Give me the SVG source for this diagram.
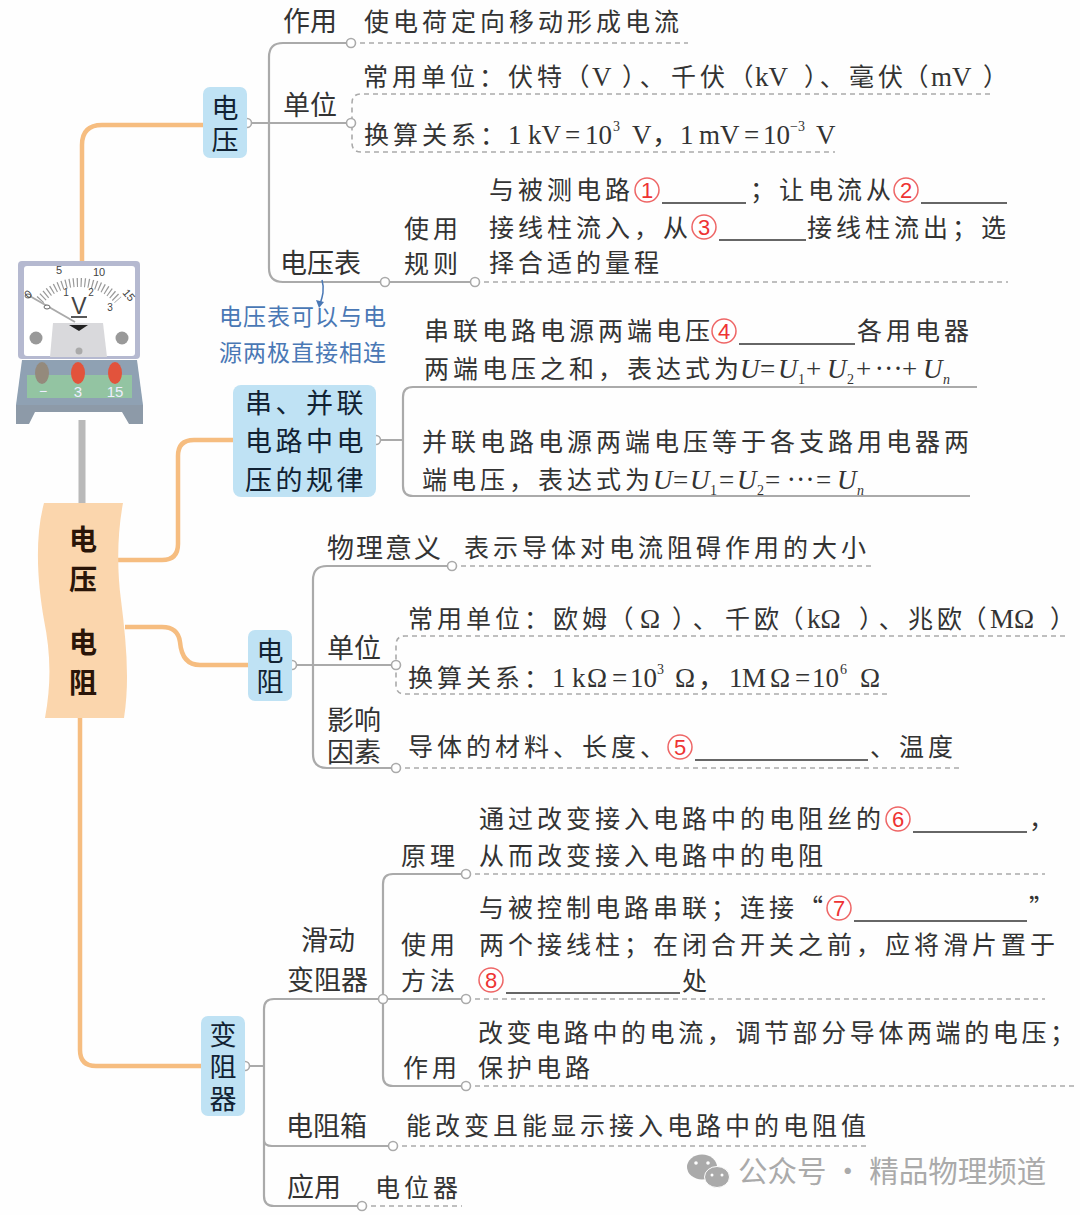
<svg xmlns="http://www.w3.org/2000/svg" width="1080" height="1215" viewBox="0 0 1080 1215">
<style>
text{font-family:"Noto Sans CJK SC","Noto Sans",sans-serif;fill:#333}
.t{font-size:25px;letter-spacing:4px}
.l{font-size:27px}
.n{font-size:27px;fill:#123;text-anchor:middle}
.m{font-family:"Liberation Serif","Noto Sans CJK SC",serif;font-size:27px;letter-spacing:0}
.q{font-feature-settings:"palt";letter-spacing:0}
.e{letter-spacing:0}
.i{font-style:italic}
.s{font-size:14px}
.r{font-family:"Liberation Sans",sans-serif;font-size:22px;fill:#e33;text-anchor:middle}
.rc{fill:#fff;stroke:#e66;stroke-width:1.5}
.o{fill:none;stroke:#f6bd80;stroke-width:4.5}
.g{fill:none;stroke:#aaa;stroke-width:2.2}
.d{fill:none;stroke:#aaa;stroke-width:1.6;stroke-dasharray:5 4}
.c{fill:#fff;stroke:#aaa;stroke-width:1.6}
.u{stroke:#333;stroke-width:1.5}
.b{fill:#bfe2f4}
.h{font-size:23px;fill:#4a78b5;letter-spacing:1px}
.k{font-family:"Liberation Sans",sans-serif;fill:#444;text-anchor:middle}
</style>
<rect width="1080" height="1215" fill="#fefefe"/>
<g id="connectors">
<path class="o" d="M82 262V145Q82 125 102 125H205"/>
<path d="M82 420V505" stroke="#b9b9b9" stroke-width="7" fill="none"/>
<path class="o" d="M118 560H162Q178 560 178 544V456Q178 440 194 440H235"/>
<path class="o" d="M125 627H162Q178 627 180 642Q182 665 200 665H248"/>
<path class="o" d="M80 718V1050Q80 1066 96 1066H205"/>
<path class="g" d="M247 123H351M351 43H283Q269 43 269 57V268Q269 282 283 282H475"/>
<path class="d" d="M351 43H688M990 94H361Q352 94 352 103V143Q352 152 361 152H835M475 282H1008"/>
<path class="g" d="M376 440H403M977 387H413Q403 387 403 397V486Q403 496 413 496H970"/>
<path class="g" d="M292 665H396M452 566H327Q313 566 313 580V754Q313 768 327 768H396"/>
<path class="d" d="M452 566H872M1065 636H405Q396 636 396 645V685Q396 694 405 694H888M396 768H960"/>
<path class="g" d="M245 1066H264M383 999H274Q264 999 264 1009V1196Q264 1206 274 1206H362M264 1140Q264 1146 272 1146H393"/>
<path class="g" d="M466 874H393Q383 874 383 884V1076Q383 1086 393 1086H466M383 999H466"/>
<path class="d" d="M466 874H1045M466 999H1045M466 1086H1075M393 1146H868M362 1206H462"/>
<path d="M322 280C325 290 322 298 320 304" fill="none" stroke="#4a78b5" stroke-width="1.5"/>
<path d="M316 300L324 302L319 308Z" fill="#4a78b5"/>
<circle class="c" cx="351" cy="43" r="4.5"/><circle class="c" cx="247" cy="123" r="4.5"/><circle class="c" cx="351" cy="123" r="4.5"/>
<circle class="c" cx="385" cy="282" r="4.5"/><circle class="c" cx="475" cy="282" r="4.5"/>
<circle class="c" cx="376" cy="440" r="4.5"/>
<circle class="c" cx="452" cy="566" r="4.5"/><circle class="c" cx="292" cy="665" r="4.5"/><circle class="c" cx="396" cy="665" r="4.5"/><circle class="c" cx="396" cy="768" r="4.5"/>
<circle class="c" cx="466" cy="874" r="4.5"/><circle class="c" cx="383" cy="999" r="4.5"/><circle class="c" cx="466" cy="999" r="4.5"/><circle class="c" cx="466" cy="1086" r="4.5"/>
<circle class="c" cx="245" cy="1066" r="4.5"/><circle class="c" cx="393" cy="1146" r="4.5"/><circle class="c" cx="362" cy="1206" r="4.5"/>
</g>
<g id="meter">
<rect x="18" y="261" width="122" height="98" rx="4" fill="#b5b9d0"/>
<rect x="24" y="266" width="111" height="90" rx="3" fill="#fff"/>
<path d="M40 300A52 52 0 0 1 118 300" fill="none" stroke="#999" stroke-width="9" stroke-dasharray="1.2 2.6"/>
<path d="M28 295L75 322" stroke="#aaa" stroke-width="2"/>
<ellipse cx="28" cy="296" rx="3" ry="2" fill="#fff" stroke="#666"/>
<ellipse cx="47" cy="307" rx="3" ry="2" fill="#fff" stroke="#666"/>
<path d="M53 323H103L107 357H50Z" fill="#d9d9dc"/>
<path d="M69 325H88L79 331Z" fill="#222"/>
<path d="M71 317H87" stroke="#222" stroke-width="1.5"/>
<circle cx="36" cy="338" r="6.5" fill="#999"/><circle cx="122" cy="338" r="6.5" fill="#999"/><circle cx="79" cy="351" r="3.5" fill="#aaa"/>
<path d="M22 360H137L143 405H16Z" fill="#8fa1b3"/>
<path d="M27 375H132V398H27Z" fill="#93c4a2"/>
<path d="M16 405H143V424H129L122 412H35L29 424H16Z" fill="#8d9aa8"/>
<ellipse cx="42" cy="373" rx="7" ry="11" fill="#948a7c"/><ellipse cx="78" cy="373" rx="7" ry="11" fill="#e2533c"/><ellipse cx="115" cy="373" rx="7" ry="11" fill="#e2533c"/>
<text class="k" x="43" y="396" font-size="14" style="fill:#eef">−</text><text class="k" x="78" y="397" font-size="15" style="fill:#eef">3</text><text class="k" x="115" y="397" font-size="15" style="fill:#eef">15</text>
<text class="k" x="79" y="314" font-size="23">V</text>
<text class="k" x="28" y="298" font-size="11" transform="rotate(-40 28 294)">0</text><text class="k" x="59" y="274" font-size="11">5</text><text class="k" x="99" y="276" font-size="11">10</text><text class="k" x="129" y="299" font-size="11" transform="rotate(50 129 295)">15</text>
<text class="k" x="66" y="296" font-size="10">1</text><text class="k" x="91" y="296" font-size="10">2</text><text class="k" x="110" y="311" font-size="10">3</text>
</g>
<g id="root">
<path d="M44 503H123C117 535 117 570 121 600C126 640 130 680 124 718H45C52 680 50 650 44 620C38 585 34 540 44 503Z" fill="#fbd6ad"/>
<text text-anchor="middle" style="font-size:28px;font-weight:700;fill:#2a1508"><tspan x="83" y="550">电</tspan><tspan x="83" y="590">压</tspan><tspan x="83" y="653">电</tspan><tspan x="83" y="693">阻</tspan></text>
</g>
<g id="node-voltage"><rect class="b" x="203" y="87" width="44" height="71" rx="7"/><text class="n"><tspan x="225" y="118">电</tspan><tspan x="225" y="150">压</tspan></text>
<text class="l" x="283" y="31">作用</text><text class="t" x="364" y="31">使电荷定向移动形成电流</text>
<text class="l" x="283" y="115">单位</text>
<text class="t" x="363" y="86">常用单位：伏特<tspan class="q" x="576">（</tspan><tspan class="m" x="592">V</tspan><tspan class="q" x="623">）</tspan><tspan class="q" x="640">、</tspan><tspan x="671">千伏</tspan><tspan class="q" x="740">（</tspan><tspan class="m" x="755">kV</tspan><tspan class="q" x="805">）</tspan><tspan class="q" x="820">、</tspan><tspan x="849">毫伏</tspan><tspan class="q" x="915">（</tspan><tspan class="m" x="931">mV</tspan><tspan class="q" x="984">）</tspan></text>
<text class="t" x="364" y="144">换算关系：<tspan class="m" x="508">1</tspan><tspan class="m" x="528">kV</tspan><tspan class="m" x="565">=</tspan><tspan class="m" x="585">10</tspan><tspan class="m s" x="613" y="131">3</tspan><tspan class="m" x="632" y="144">V</tspan><tspan class="m" x="652">，</tspan><tspan class="m" x="680">1</tspan><tspan class="m" x="699">mV</tspan><tspan class="m" x="744">=</tspan><tspan class="m" x="763">10</tspan><tspan class="m s" x="790" y="131">−3</tspan><tspan class="m" x="816" y="144">V</tspan></text>
<text class="l" x="280" y="273">电压表</text>
<text class="t"><tspan x="404" y="238">使用</tspan><tspan x="404" y="273">规则</tspan></text>
<text class="t" x="489" y="199">与被测电路</text><circle class="rc" cx="647" cy="190" r="12"/><text class="r" x="647" y="198">1</text><path class="u" d="M662 203H746"/><text class="t" x="750" y="199">；让电流从</text><circle class="rc" cx="906" cy="190" r="12"/><text class="r" x="906" y="198">2</text>
<path class="u" d="M921 203H1007"/>
<text class="t" x="489" y="237">接线柱流入，从</text><circle class="rc" cx="704" cy="227" r="12"/><text class="r" x="704" y="235">3</text><path class="u" d="M719 240H806"/><text class="t" x="807" y="237">接线柱流出；选</text>
<text class="t" x="489" y="272">择合适的量程</text>
</g>
<g id="note"><text class="h" x="219" y="325">电压表可以与电</text><text class="h" x="219" y="361">源两极直接相连</text></g>
<g id="node-series"><rect class="b" x="233" y="385" width="143" height="112" rx="8"/>
<text class="n" style="letter-spacing:3.5px"><tspan x="306" y="413">串、并联</tspan><tspan x="306" y="451">电路中电</tspan><tspan x="306" y="490">压的规律</tspan></text>
<text class="t" x="424" y="340">串联电路电源两端电压</text><circle class="rc" cx="724" cy="331" r="12"/><text class="r" x="724" y="339">4</text><path class="u" d="M739 344H855"/><text class="t" x="857" y="340">各用电器</text>
<text class="t" x="424" y="378">两端电压之和，表达式为<tspan class="m i" x="740">U</tspan><tspan class="m" x="760">=</tspan><tspan class="m i" x="778">U</tspan><tspan class="m s" x="798" y="384">1</tspan><tspan class="m" x="806" y="378">+</tspan><tspan class="m i" x="827">U</tspan><tspan class="m s" x="847" y="384">2</tspan><tspan class="m" x="856" y="378">+</tspan><tspan class="e" x="875" y="370">⋯</tspan><tspan class="m" x="902" y="378">+</tspan><tspan class="m i" x="923">U</tspan><tspan class="m s i" x="943" y="384">n</tspan></text>
<text class="t" x="422" y="451">并联电路电源两端电压等于各支路用电器两</text>
<text class="t" x="422" y="489">端电压，表达式为<tspan class="m i" x="653">U</tspan><tspan class="m" x="673">=</tspan><tspan class="m i" x="690">U</tspan><tspan class="m s" x="710" y="495">1</tspan><tspan class="m" x="719" y="489">=</tspan><tspan class="m i" x="737">U</tspan><tspan class="m s" x="757" y="495">2</tspan><tspan class="m" x="765" y="489">=</tspan><tspan class="e" x="787" y="481">⋯</tspan><tspan class="m" x="816" y="489">=</tspan><tspan class="m i" x="837">U</tspan><tspan class="m s i" x="857" y="495">n</tspan></text>
</g>
<g id="node-resistance"><rect class="b" x="248" y="630" width="44" height="71" rx="7"/><text class="n"><tspan x="270" y="661">电</tspan><tspan x="270" y="692">阻</tspan></text>
<text class="l" x="327" y="558" style="letter-spacing:2px">物理意义</text><text class="t" x="464" y="557">表示导体对电流阻碍作用的大小</text>
<text class="l" x="327" y="658">单位</text>
<text class="t" x="408" y="628">常用单位：欧姆<tspan class="q" x="620">（</tspan><tspan class="m" x="640">Ω</tspan><tspan class="q" x="673">）</tspan><tspan class="q" x="693">、</tspan><tspan x="725">千欧</tspan><tspan class="q" x="790">（</tspan><tspan class="m" x="807">kΩ</tspan><tspan class="q" x="860">）</tspan><tspan class="q" x="879">、</tspan><tspan x="908">兆欧</tspan><tspan class="q" x="973">（</tspan><tspan class="m" x="990">MΩ</tspan><tspan class="q" x="1051">）</tspan></text>
<text class="t" x="408" y="687">换算关系：<tspan class="m" x="552">1</tspan><tspan class="m" x="572">k</tspan><tspan class="m" x="587">Ω</tspan><tspan class="m" x="612">=</tspan><tspan class="m" x="630">10</tspan><tspan class="m s" x="657" y="674">3</tspan><tspan class="m" x="675" y="687">Ω</tspan><tspan class="m" x="698">，</tspan><tspan class="m" x="729">1</tspan><tspan class="m" x="742">M</tspan><tspan class="m" x="770">Ω</tspan><tspan class="m" x="795">=</tspan><tspan class="m" x="812">10</tspan><tspan class="m s" x="840" y="674">6</tspan><tspan class="m" x="860" y="687">Ω</tspan></text>
<text class="l"><tspan x="327" y="730">影响</tspan><tspan x="327" y="762">因素</tspan></text>
<text class="t" x="408" y="756">导体的材料、长度、</text><circle class="rc" cx="680" cy="747" r="12"/><text class="r" x="680" y="755">5</text><path class="u" d="M695 760H868"/><text class="t" x="870" y="756">、温度</text>
</g>
<g id="node-rheostat"><rect class="b" x="201" y="1016" width="44" height="100" rx="7"/><text class="n"><tspan x="223" y="1045">变</tspan><tspan x="223" y="1077">阻</tspan><tspan x="223" y="1109">器</tspan></text>
<text class="l"><tspan x="301" y="950">滑动</tspan><tspan x="287" y="990">变阻器</tspan></text>
<text class="t" x="401" y="865">原理</text><text class="t"><tspan x="401" y="954">使用</tspan><tspan x="401" y="990">方法</tspan></text><text class="t" x="403" y="1077">作用</text>
<text class="t" x="479" y="828">通过改变接入电路中的电阻丝的</text><circle class="rc" cx="898" cy="819" r="12"/><text class="r" x="898" y="827">6</text><path class="u" d="M913 832H1027"/><text class="t" x="1029" y="828">，</text>
<text class="t" x="479" y="865">从而改变接入电路中的电阻</text>
<text class="t" x="479" y="917">与被控制电路串联；连接“</text><circle class="rc" cx="839" cy="908" r="12"/><text class="r" x="839" y="916">7</text><path class="u" d="M854 921H1027"/><text class="t" x="1029" y="917">”</text>
<text class="t" x="479" y="954">两个接线柱；在闭合开关之前，应将滑片置于</text>
<circle class="rc" cx="491" cy="980" r="12"/><text class="r" x="491" y="988">8</text><path class="u" d="M506 993H680"/><text class="t" x="682" y="990">处</text>
<text class="t" x="478" y="1042" style="letter-spacing:3.6px">改变电路中的电流，调节部分导体两端的电压；</text>
<text class="t" x="478" y="1077">保护电路</text>
<text class="l" x="286" y="1136">电阻箱</text><text class="t" x="406" y="1135">能改变且能显示接入电路中的电阻值</text>
<text class="l" x="287" y="1197">应用</text><text class="t" x="375" y="1197">电位器</text>
</g>
<g id="watermark">
<ellipse cx="702" cy="1167" rx="15" ry="12.5" fill="#aaa"/><ellipse cx="717" cy="1177" rx="12.5" ry="10.5" fill="#aaa" stroke="#fefefe"/>
<circle cx="696" cy="1163" r="1.8" fill="#fefefe"/><circle cx="708" cy="1163" r="1.8" fill="#fefefe"/><circle cx="712" cy="1175" r="1.5" fill="#fefefe"/><circle cx="722" cy="1175" r="1.5" fill="#fefefe"/>
<text x="738" y="1182" style="font-size:29.5px;fill:#aaa">公众号 · 精品物理频道</text>
</g>
</svg>
